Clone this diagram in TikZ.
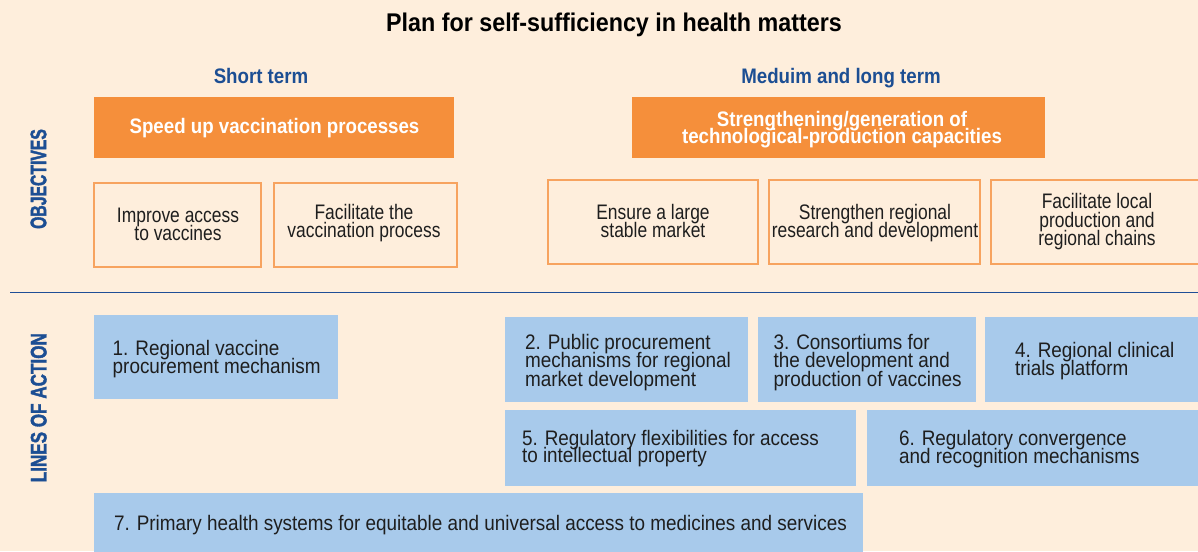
\documentclass[tikz,border=0pt]{standalone}
\usepackage{fontspec}
\setmainfont{Liberation Sans}
\newfontfamily\fT{Liberation Sans}[FakeStretch=0.91]
\newfontfamily\fH{Liberation Sans}[FakeStretch=0.89]
\newfontfamily\fO{Liberation Sans}[FakeStretch=0.83]
\newfontfamily\fL{Liberation Sans}[FakeStretch=0.9]
\newfontfamily\fSa{Liberation Sans}[FakeStretch=0.7,FakeBold=1.6]
\newfontfamily\fSb{Liberation Sans}[FakeStretch=0.76,FakeBold=1.6]
\definecolor{bgc}{RGB}{254,238,220}
\definecolor{orf}{RGB}{245,143,59}
\definecolor{outc}{RGB}{247,163,95}
\definecolor{boxb}{RGB}{168,202,235}
\definecolor{bluet}{RGB}{28,78,147}
\definecolor{sepc}{RGB}{31,78,150}
\definecolor{txtc}{RGB}{30,30,30}
% multi-line helpers: #1 = baseline pitch
\newcommand\mlc[2]{\vtop{\baselineskip=#1\lineskiplimit=-1000pt\lineskip=0pt\halign{\hfil##\hfil\cr#2\crcr}}}
\newcommand\mll[2]{\vtop{\baselineskip=#1\lineskiplimit=-1000pt\lineskip=0pt\halign{##\hfil\cr#2\crcr}}}
\begin{document}
\begin{tikzpicture}[x=1pt,y=-1pt,
  every node/.style={inner sep=0pt, outer sep=0pt},
  objbox/.style={draw=outc, line width=1.4pt},
  actbox/.style={fill=boxb},
  orbox/.style={fill=orf},
  ttl/.style={font=\fT\bfseries\fontsize{25.6}{28}\selectfont, text=black},
  hd/.style={font=\fH\bfseries\fontsize{21}{22}\selectfont, text=bluet},
  ortxt/.style={font=\fH\bfseries\fontsize{21}{22}\selectfont, text=white},
  objtxt/.style={font=\fO\fontsize{21}{22}\selectfont, text=txtc},
  acttxt/.style={font=\fL\fontsize{21}{22}\selectfont, text=txtc},
  sidea/.style={font=\fSa\bfseries\fontsize{22.5}{24}\selectfont, text=bluet, rotate=90},
  sideb/.style={font=\fSb\bfseries\fontsize{22.5}{24}\selectfont, text=bluet, rotate=90},
  sepline/.style={draw=sepc, line width=1.3pt}]
\useasboundingbox (0,0) rectangle (1198,551);
\fill[bgc] (0,0) rectangle (1198,551);

% title and headings
\node[ttl, anchor=base] (title) at (614,31.7) {Plan for self-sufficiency in health matters};
\node[hd, anchor=base] (short) at (261,83.3) {Short term};
\node[hd, anchor=base] (medium) at (841,83.3) {Meduim and long term};

% orange objective headers
\fill[orbox] (94,97) rectangle (454,158);
\fill[orbox] (632,97) rectangle (1045,158);
\node[ortxt, anchor=base] (or1) at (274.5,133.3) {Speed up vaccination processes};
\node[ortxt, anchor=base] (or2) at (842,126) {\mlc{17.3pt}{Strengthening/generation of\cr technological-production capacities}};

% objective boxes
\draw[objbox] (94,183) rectangle (261,267);
\draw[objbox] (274,183) rectangle (457,267);
\draw[objbox] (548,180) rectangle (758,264);
\draw[objbox] (769,180) rectangle (980,264);
\draw[objbox] (991,180) rectangle (1215,264);
\node[objtxt, anchor=base] (oa) at (178,222) {\mlc{18.5pt}{Improve access\cr to vaccines}};
\node[objtxt, anchor=base] (ob) at (364,219) {\mlc{18.5pt}{Facilitate the\cr vaccination process}};
\node[objtxt, anchor=base] (oc) at (653,219) {\mlc{18.5pt}{Ensure a large\cr stable market}};
\node[objtxt, anchor=base] (od) at (875,219) {\mlc{18.5pt}{Strengthen regional\cr research and development}};
\node[objtxt, anchor=base] (oe) at (1097,208.3) {\mlc{18.7pt}{Facilitate local\cr production and\cr regional chains}};

% side labels
\node[sidea] (objlbl) at (38.5,179) {OBJECTIVES};
\node[sideb] (actlbl) at (38.7,407.7) {LINES OF ACTION};

% separator
\coordinate (sepL) at (10,292.3);
\coordinate (sepR) at (1198,292.3);
\draw[sepline] (sepL) -- (sepR);

% lines of action boxes
\fill[actbox] (94,315) rectangle (338,399);
\fill[actbox] (505,317) rectangle (748,402);
\fill[actbox] (758,317) rectangle (976,402);
\fill[actbox] (985,317) rectangle (1215,402);
\fill[actbox] (505,410) rectangle (855.5,486);
\fill[actbox] (867,410) rectangle (1215,486);
\fill[actbox] (94,493) rectangle (863,560);

\node[acttxt, anchor=base west] (a1) at (112.7,355) {\mll{18pt}{1. Regional vaccine\cr procurement mechanism}};
\node[acttxt, anchor=base west] (a2) at (525,349) {\mll{18.5pt}{2. Public procurement\cr mechanisms for regional\cr market development}};
\node[acttxt, anchor=base west] (a3) at (773.5,349) {\mll{18.5pt}{3. Consortiums for\cr the development and\cr production of vaccines}};
\node[acttxt, anchor=base west] (a4) at (1015,357) {\mll{18.5pt}{4. Regional clinical\cr trials platform}};
\node[acttxt, anchor=base west] (a5) at (522,445) {\mll{17.5pt}{5. Regulatory flexibilities for access\cr to intellectual property}};
\node[acttxt, anchor=base west] (a6) at (899,445) {\mll{18pt}{6. Regulatory convergence\cr and recognition mechanisms}};
\node[acttxt, anchor=base west] (a7) at (114,530) {7. Primary health systems for equitable and universal access to medicines and services};
\end{tikzpicture}
\end{document}
